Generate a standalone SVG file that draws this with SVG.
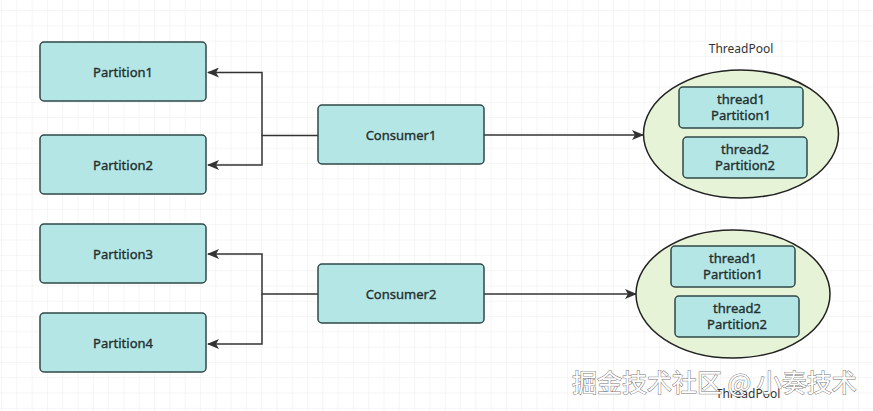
<svg xmlns="http://www.w3.org/2000/svg" width="873" height="411" viewBox="0 0 873 411">
<defs>
<pattern id="grid" x="2" y="11" width="15.3" height="15.3" patternUnits="userSpaceOnUse">
<path d="M15.3 0V15.3M0 15.3H15.3" fill="none" stroke="#ececec" stroke-width="1"/>
</pattern>
<marker id="arr" viewBox="0 0 12 10" refX="11" refY="5" markerWidth="12" markerHeight="10" markerUnits="userSpaceOnUse" orient="auto">
<path d="M0 0L12 5L0 10L3 5Z" fill="#333"/>
</marker>
<style>
.box{fill:#b5e6e6;stroke:#2f4848;stroke-width:1.5}
.pool{fill:#e7f3d6;stroke:#222;stroke-width:1.5}
.lbl{font-family:"Noto Sans","Liberation Sans",sans-serif;font-size:13px;fill:#22302f;stroke:#22302f;stroke-width:0.35;text-anchor:middle}
.cap{font-family:"Noto Sans","Liberation Sans",sans-serif;font-size:12px;fill:#333;text-anchor:middle}
.conn{fill:none;stroke:#333;stroke-width:1.5}
.wm{font-family:"Noto Sans CJK SC",sans-serif;font-size:25px;fill:#fff;stroke:#777;stroke-width:1;paint-order:stroke}
</style>
</defs>
<rect width="873" height="411" fill="#fff"/>
<rect width="873" height="411" fill="url(#grid)"/>

<g id="connectors">
<path class="conn" d="M318 135.5H262V72.5H208" marker-end="url(#arr)"/>
<path class="conn" d="M262 135.5V165H208" marker-end="url(#arr)"/>
<path class="conn" d="M484 135H643" marker-end="url(#arr)"/>
<path class="conn" d="M318 294H262V254H208" marker-end="url(#arr)"/>
<path class="conn" d="M262 294V344H208" marker-end="url(#arr)"/>
<path class="conn" d="M484 294H636" marker-end="url(#arr)"/>
</g>

<g id="partition1"><rect class="box" x="40" y="42" width="166" height="59" rx="4"/><text class="lbl" x="123" y="77">Partition1</text></g>
<g id="partition2"><rect class="box" x="40" y="135" width="166" height="59" rx="4"/><text class="lbl" x="123" y="170">Partition2</text></g>
<g id="partition3"><rect class="box" x="40" y="224" width="166" height="59" rx="4"/><text class="lbl" x="123" y="259">Partition3</text></g>
<g id="partition4"><rect class="box" x="40" y="313" width="166" height="59" rx="4"/><text class="lbl" x="123" y="348">Partition4</text></g>

<g id="consumer1"><rect class="box" x="318" y="105" width="166" height="59" rx="4"/><text class="lbl" x="401" y="140">Consumer1</text></g>
<g id="consumer2"><rect class="box" x="318" y="264" width="166" height="59" rx="4"/><text class="lbl" x="401" y="299">Consumer2</text></g>

<g id="threadpool1">
<text class="cap" x="741" y="53">ThreadPool</text>
<ellipse class="pool" cx="741" cy="134" rx="97.5" ry="64"/>
<rect class="box" x="679" y="87" width="124" height="41" rx="4"/>
<text class="lbl" x="741" y="104">thread1</text><text class="lbl" x="741" y="120">Partition1</text>
<rect class="box" x="683" y="137" width="124" height="41" rx="4"/>
<text class="lbl" x="745" y="154">thread2</text><text class="lbl" x="745" y="170">Partition2</text>
</g>

<g id="threadpool2">
<text class="cap" x="748" y="398">ThreadPool</text>
<ellipse class="pool" cx="733" cy="294" rx="97" ry="64"/>
<rect class="box" x="671" y="246" width="124" height="41" rx="4"/>
<text class="lbl" x="733" y="263">thread1</text><text class="lbl" x="733" y="279">Partition1</text>
<rect class="box" x="675" y="296" width="124" height="41" rx="4"/>
<text class="lbl" x="737" y="313">thread2</text><text class="lbl" x="737" y="329">Partition2</text>
</g>

<text class="wm" x="572" y="392">掘金技术社区 @ 小奏技术</text>
</svg>
